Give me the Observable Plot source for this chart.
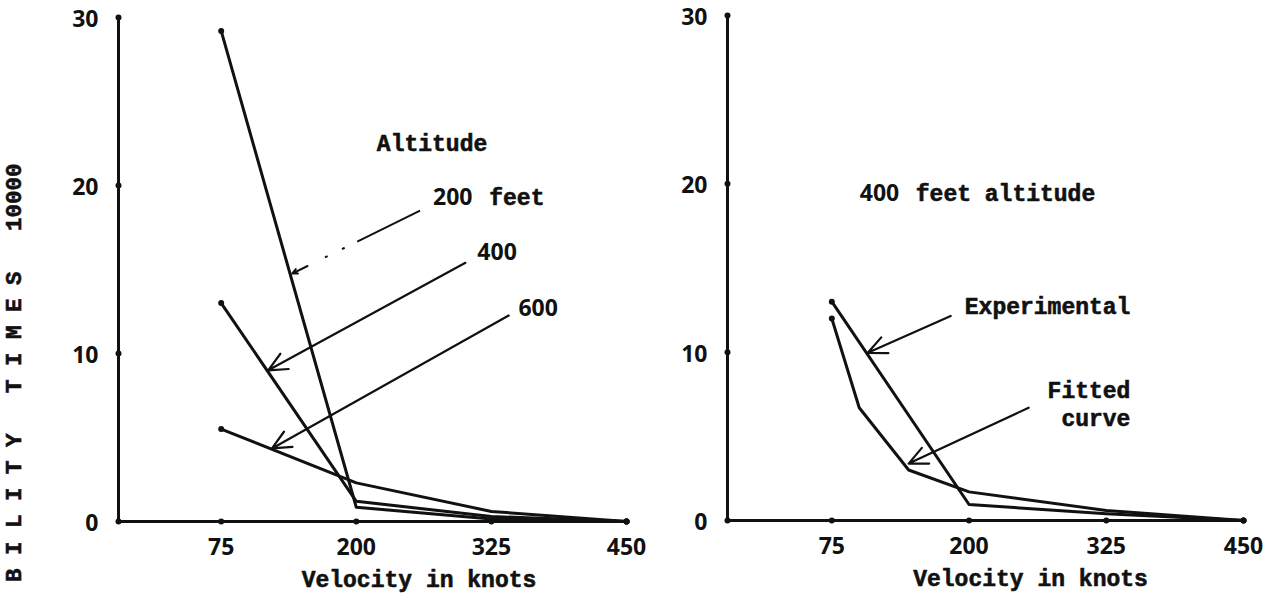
<!DOCTYPE html>
<html><head><meta charset="utf-8">
<script src="https://cdn.jsdelivr.net/npm/d3@7"></script>
<script src="https://cdn.jsdelivr.net/npm/@observablehq/plot@0.6"></script>
<style>
body{margin:0;background:#fff;}
#wrap{position:relative;width:1270px;height:598px;overflow:hidden;background:#fff;}
#left{position:absolute;left:0;top:0;}
#right{position:absolute;left:640px;top:0;}
#ylab{position:absolute;left:0;top:0;white-space:pre;font-family:"Liberation Mono",monospace;font-weight:bold;font-size:22.5px;line-height:26px;height:26px;transform-origin:0 0;transform:translate(2px,582px) rotate(-90deg);color:#111;-webkit-text-stroke:0.6px #111;}
</style></head><body>
<div id="wrap"><div id="left"></div><div id="right"></div><div id="ylab">B I L I T Y   T I M E S   10000</div></div>
<script>
// ---- data ----
const xTicks = [75, 200, 325, 450];
const yTicks = [0, 10, 20, 30];
const xDomain = [-20, 450];
const yDomain = [0, 30];

const velocity = [75, 200, 325, 450];
const alt200 = [29.2, 0.85, 0.15, 0];
const alt400 = [13, 1.2, 0.3, 0];
const alt600 = [5.5, 2.3, 0.6, 0];

const expVelocity = [75, 200, 325, 450];
const experimental = [13, 0.95, 0.4, 0];
const fitVelocity = [75, 100, 145, 200, 325, 450];
const fitted = [12, 6.7, 3.0, 1.7, 0.6, 0];

const xLabel = "Velocity in knots";
const xLabelPos = [258, 256];

// annotation labels (data coords)
const leftMono = [
  {text: "Altitude", x: 219, y: 22.5, anchor: "start"},
  {text: "feet", x: 323, y: 19.3, anchor: "start"}
];
const leftNum = [
  {text: "200", x: 271, y: 19.3},
  {text: "400", x: 312, y: 16.0},
  {text: "600", x: 350, y: 12.7}
];
const rightMono = [
  {text: "feet altitude", x: 151.5, y: 19.4, anchor: "start"},
  {text: "Experimental", x: 347, y: 12.7, anchor: "end"},
  {text: "Fitted", x: 347, y: 7.7, anchor: "end"},
  {text: "curve", x: 347, y: 6.05, anchor: "end"}
];
const rightNum = [
  {text: "400", x: 100.5, y: 19.4}
];
const leftArrows = [
  {x1: 301, y1: 15.4, x2: 118.5, y2: 9.0},
  {x1: 341, y1: 12.26, x2: 122, y2: 4.35}
];
const leftDashedArrow = [{x1: 259, y1: 18.5, x2: 140.7, y2: 14.76}];
const rightArrows = [
  {x1: 183.3, y1: 12.15, x2: 107.8, y2: 9.96},
  {x1: 254.3, y1: 6.7, x2: 145, y2: 3.38}
];

// ---- build ----
const INK = "#111";
const MONO = "'Liberation Mono', monospace";
const NUM = "'Open Sans', 'DejaVu Sans', sans-serif";

function toRows(name, xs, ys) { return xs.map((x, i) => ({series: name, x, y: ys[i]})); }

function panel(opts) {
  const lineRows = opts.series.flat();
  const firsts = opts.series.map(s => s[0]);
  const lasts = opts.series.map(s => s[s.length - 1]);
  const monoText = {x: "x", y: "y", text: "text", fontFamily: MONO, fontWeight: "bold", fontSize: 23, fill: INK, stroke: INK, strokeWidth: 0.6};
  const marks = [
    Plot.ruleY([yDomain[0]], {x1: xDomain[0], x2: xDomain[1], stroke: INK, strokeWidth: 3}),
    Plot.ruleX([xDomain[0]], {y1: yDomain[0], y2: yDomain[1], stroke: INK, strokeWidth: 3}),
    Plot.dot(xTicks, {x: d => d, y: yDomain[0], r: 3, fill: INK}),
    Plot.dot(yTicks, {x: xDomain[0], y: d => d, r: 3, fill: INK}),
    Plot.axisX(xTicks, {tickSize: 0, tickPadding: 17, fontSize: 23, fontFamily: NUM, fontWeight: "bold", fill: INK, tickFormat: d => String(d), label: null}),
    Plot.axisY(yTicks, {tickSize: 0, tickPadding: 20, dy: 2, fontSize: 23, fontFamily: NUM, fontWeight: "bold", fill: INK, tickFormat: d => String(d), label: null}),
    Plot.text([xLabel], {x: opts.xLabelX, y: yDomain[0], dy: 58, fontFamily: MONO, fontWeight: "bold", fontSize: 23, fill: INK, stroke: INK, strokeWidth: 0.6}),
    Plot.line(lineRows, {x: "x", y: "y", z: "series", stroke: INK, strokeWidth: 3, strokeLinejoin: "round"}),
    Plot.dot(firsts.concat(lasts), {x: "x", y: "y", r: 3, fill: INK}),
    Plot.arrow(opts.arrows, {x1: "x1", y1: "y1", x2: "x2", y2: "y2", stroke: INK, strokeWidth: 2.2, headLength: 14, headAngle: 50}),
    Plot.text(opts.mono.filter(d => d.anchor === "start"), {...monoText, textAnchor: "start"}),
    Plot.text(opts.mono.filter(d => d.anchor === "end"), {...monoText, textAnchor: "end"}),
    Plot.text(opts.num, {x: "x", y: "y", text: "text", textAnchor: "start", fontFamily: NUM, fontWeight: "bold", fontSize: 23, fill: INK})
  ];
  if (opts.dashed) {
    const d = opts.dashed;
    marks.push(Plot.link(d, {x1: "x1", y1: "y1", x2: "x2", y2: "y2", stroke: INK, strokeWidth: 2, strokeDasharray: "70 14 3 16 3 40"}));
    marks.push(Plot.arrow(d.map(a => ({x1: a.x2 + (a.x1 - a.x2) * 0.12, y1: a.y2 + (a.y1 - a.y2) * 0.12, x2: a.x2, y2: a.y2})),
      {x1: "x1", y1: "y1", x2: "x2", y2: "y2", stroke: INK, strokeWidth: 2, headLength: 14, headAngle: 50}));
  }
  return Plot.plot({
    width: opts.width, height: 598,
    marginLeft: opts.marginLeft, marginRight: opts.marginRight,
    marginTop: opts.marginTop, marginBottom: opts.marginBottom,
    x: {domain: xDomain, axis: null},
    y: {domain: yDomain, axis: null},
    style: {background: "transparent", color: INK, overflow: "visible"},
    marks
  });
}

const left = panel({
  width: 640, marginLeft: 118, marginRight: 14, marginTop: 17, marginBottom: 77,
  series: [toRows("200 feet", velocity, alt200), toRows("400", velocity, alt400), toRows("600", velocity, alt600)],
  arrows: leftArrows, dashed: leftDashedArrow, mono: leftMono, num: leftNum, xLabelX: xLabelPos[0]
});
const right = panel({
  width: 630, marginLeft: 87, marginRight: 27, marginTop: 15, marginBottom: 78,
  series: [toRows("Experimental", expVelocity, experimental), toRows("Fitted curve", fitVelocity, fitted)],
  arrows: rightArrows, mono: rightMono, num: rightNum, xLabelX: xLabelPos[1]
});
document.getElementById("left").appendChild(left);
document.getElementById("right").appendChild(right);
</script>
</body></html>
